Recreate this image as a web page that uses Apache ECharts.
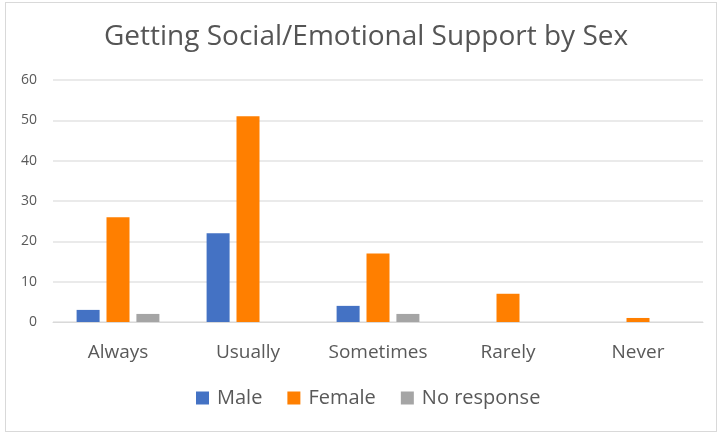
<!DOCTYPE html>
<html><head><meta charset="utf-8">
<script src="https://cdn.jsdelivr.net/npm/echarts@6/dist/echarts.min.js"></script>
<style>
html,body{margin:0;padding:0;background:#fff;}
#chart{width:718px;height:433px;position:absolute;left:0;top:0;}
#frame{position:absolute;left:5px;top:2px;width:710px;height:428px;border:1px solid #d9d9d9;pointer-events:none;}
</style></head>
<body>
<div id="chart"></div>
<div id="frame"></div>
<script>
const categories = ['Always', 'Usually', 'Sometimes', 'Rarely', 'Never'];
const male = [3, 22, 4, 0, 0];
const female = [26, 51, 17, 7, 1];
const noResponse = [2, 0, 2, 0, 0];
const seriesNames = ['Male', 'Female', 'No response'];
const colors = ['#4472c4', '#ff7f00', '#a5a5a5'];

const chart = echarts.init(document.getElementById('chart'));
const font = 'Open Sans, Liberation Sans, sans-serif';
chart.setOption({
  animation: false,
  color: colors,
  title: {
    text: 'Getting Social/Emotional Support by Sex',
    left: 99, top: 18,
    textStyle: {fontFamily: font, fontSize: 28, fontWeight: 'normal', color: '#555555'}
  },
  legend: {
    data: seriesNames, bottom: 20, left: 191,
    itemWidth: 13, itemHeight: 13, itemGap: 25,
    icon: 'rect',
    textStyle: {fontFamily: font, fontSize: 20, color: '#595959', padding: [0,0,0,3]}
  },
  grid: {left: 53, right: 15, top: 80, bottom: 111},
  xAxis: {
    type: 'category', data: categories,
    axisLine: {show: true, lineStyle: {color: '#d9d9d9', width: 1}},
    axisTick: {show: false},
    axisLabel: {fontFamily: font, fontSize: 19, color: '#595959', margin: 21}
  },
  yAxis: {
    type: 'value', min: 0, max: 60, interval: 10,
    axisLine: {show: false}, axisTick: {show: false},
    splitLine: {lineStyle: {color: '#e3e3e3', width: 1.5}},
    axisLabel: {fontFamily: font, fontSize: 14, color: '#595959', margin: 16}
  },
  series: [
    {name: seriesNames[0], type: 'bar', data: male, barWidth: 23, barGap: '30%'},
    {name: seriesNames[1], type: 'bar', data: female, barWidth: 23, barGap: '30%'},
    {name: seriesNames[2], type: 'bar', data: noResponse, barWidth: 23, barGap: '30%'}
  ]
});
</script>
</body></html>
